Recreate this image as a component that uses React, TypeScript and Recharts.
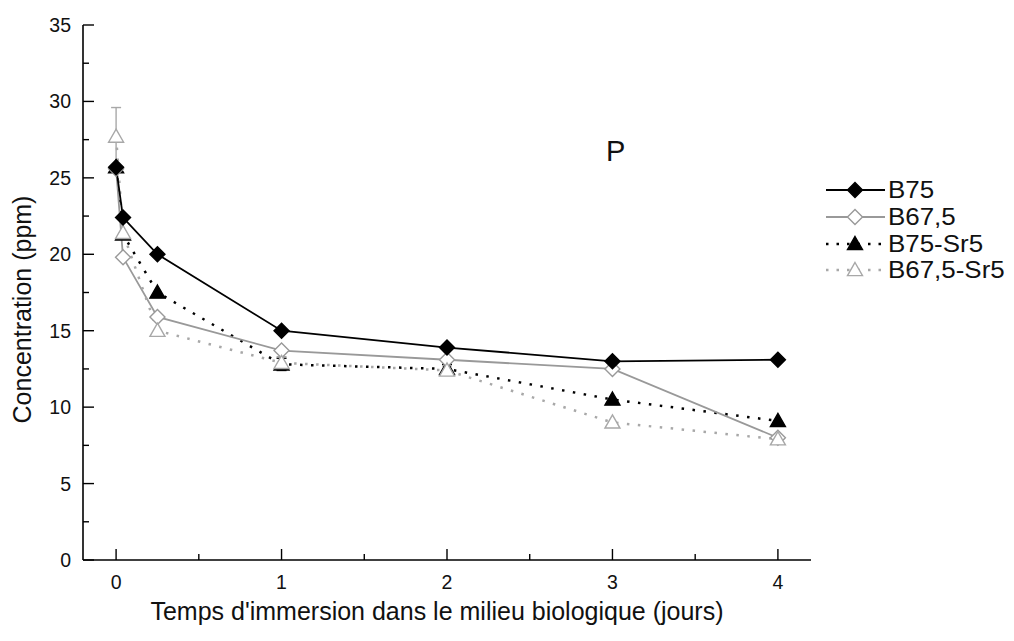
import React from 'react'
import { ErrorBar, Line, LineChart, XAxis, YAxis } from 'recharts'

// temps en jours (0, 1 h, 6 h, puis 1 à 4 jours)
const days = [0, 0.042, 0.25, 1, 2, 3, 4]
const b75 = [25.7, 22.4, 20.0, 15.0, 13.9, 13.0, 13.1]
const b675 = [25.6, 19.8, 15.9, 13.7, 13.1, 12.5, 8.0]
const b75sr5 = [25.7, 21.3, 17.5, 12.8, 12.5, 10.5, 9.1]
const b675sr5 = [27.7, 21.4, 15.0, 12.9, 12.4, 9.0, 7.9]
const b75sr5Err = [null, null, null, 0.4, 0.3, null, null]
const b675sr5Err = [1.9, null, null, 0.4, 0.3, null, null]

const xTicks = [0, 0.5, 1, 1.5, 2, 2.5, 3, 3.5, 4]
const yTicks = [0, 2.5, 5, 7.5, 10, 12.5, 15, 17.5, 20, 22.5, 25, 27.5, 30, 32.5, 35]

const data = days.map((d, i) => ({
  day: d,
  b75: b75[i],
  b675: b675[i],
  b75sr5: b75sr5[i],
  b675sr5: b675sr5[i],
  b75sr5Err: b75sr5Err[i],
  b675sr5Err: b675sr5Err[i],
}))

type Shape = 'diamond' | 'triangle'

// ordre de dessin : B75 au-dessus
const series: { key: string; name: string; color: string; fill: string; shape: Shape; dash?: string; err?: string }[] = [
  { key: 'b75sr5', name: 'B75-Sr5', color: '#000', fill: '#000', shape: 'triangle', dash: '2.5 8.5', err: 'b75sr5Err' },
  { key: 'b675', name: 'B67,5', color: '#999', fill: '#fff', shape: 'diamond' },
  { key: 'b675sr5', name: 'B67,5-Sr5', color: '#a8a8a8', fill: '#fff', shape: 'triangle', dash: '2.5 8.5', err: 'b675sr5Err' },
  { key: 'b75', name: 'B75', color: '#000', fill: '#000', shape: 'diamond' },
]
const legendOrder = ['b75', 'b675', 'b75sr5', 'b675sr5']

const FONT = '"Liberation Sans", Arial, sans-serif'

function Marker({ cx, cy, shape, color, fill }: { cx: number; cy: number; shape: Shape; color: string; fill: string }) {
  if (shape === 'diamond') {
    const r = 7.5
    return <path d={`M${cx},${cy - r} L${cx + r},${cy} L${cx},${cy + r} L${cx - r},${cy} Z`} fill={fill} stroke={color} strokeWidth={1.4} />
  }
  const r = 7.5
  return (
    <path
      d={`M${cx},${cy - r} L${cx + r},${cy + r * 0.75} L${cx - r},${cy + r * 0.75} Z`}
      fill={fill}
      stroke={color}
      strokeWidth={1.4}
    />
  )
}

const LeftTick = ({ x, y, payload }: any) => {
  const major = payload.value % 5 === 0
  return (
    <g>
      <line x1={x} x2={x + (major ? 11 : 6)} y1={y} y2={y} stroke="#000" strokeWidth={1.4} />
      {major && (
        <text x={x - 12} y={y} textAnchor="end" dominantBaseline="central" fontSize={19.5} fontFamily={FONT} fill="#111">
          {payload.value}
        </text>
      )}
    </g>
  )
}

const RightTick = ({ x, y, payload }: any) => {
  const major = payload.value % 5 === 0
  return <line x1={x} x2={x - (major ? 11 : 6)} y1={y} y2={y} stroke="#000" strokeWidth={1.4} />
}

const BottomTick = ({ x, y, payload }: any) => {
  const major = Number.isInteger(payload.value)
  return (
    <g>
      <line x1={x} x2={x} y1={y} y2={y - (major ? 11 : 6)} stroke="#000" strokeWidth={1.4} />
      {major && (
        <text x={x} y={y + 22} textAnchor="middle" dominantBaseline="central" fontSize={19.5} fontFamily={FONT} fill="#111">
          {payload.value}
        </text>
      )}
    </g>
  )
}

const TopTick = ({ x, y, payload }: any) => {
  const major = Number.isInteger(payload.value)
  return <line x1={x} x2={x} y1={y} y2={y + (major ? 11 : 6)} stroke="#000" strokeWidth={1.4} />
}

function LegendBox() {
  return (
    <div style={{ position: 'absolute', left: 822, top: 177, fontFamily: FONT, fontSize: 24, color: '#111' }}>
      {legendOrder.map((k) => {
        const s = series.find((q) => q.key === k)!
        return (
          <div key={k} style={{ display: 'flex', alignItems: 'center', height: 26.7 }}>
            <svg width={66} height={26} style={{ display: 'block' }}>
              <line
                x1={4}
                x2={63}
                y1={13}
                y2={13}
                stroke={s.color}
                strokeWidth={s.dash ? 2.5 : 1.8}
                strokeDasharray={s.dash ? '2.5 8' : undefined}
              />
              <Marker cx={33} cy={13} shape={s.shape} color={s.color} fill={s.fill} />
            </svg>
            <span style={{ lineHeight: '26px', display: 'inline-block', transform: 'scaleX(1.08)', transformOrigin: 'left center' }}>
              {s.name}
            </span>
          </div>
        )
      })}
    </div>
  )
}

export default function App() {
  return (
    <div style={{ position: 'relative', width: 1014, height: 641, background: '#fff' }}>
      <style>{'body{margin:0;background:#fff}'}</style>
      <LineChart width={1014} height={641} data={data} margin={{ top: 25, right: 203, bottom: 21, left: 23 }}>
        <XAxis
          xAxisId="bottom"
          dataKey="day"
          type="number"
          domain={[-0.2, 4.2]}
          ticks={xTicks}
          allowDataOverflow
          height={60}
          tickSize={0}
          tickMargin={0}
          tickLine={false}
          axisLine={{ stroke: '#000', strokeWidth: 1.6 }}
          tick={<BottomTick />}
          interval={0}
          label={{
            content: ({ viewBox }: any) => (
              <text
                x={viewBox.x + viewBox.width / 2 - 10}
                y={viewBox.y + 51}
                textAnchor="middle"
                dominantBaseline="central"
                fontSize={25}
                fontFamily={FONT}
                fill="#111"
              >
                Temps d'immersion dans le milieu biologique (jours)
              </text>
            ),
          }}
        />
        <XAxis
          xAxisId="top"
          orientation="top"
          dataKey="day"
          type="number"
          domain={[-0.2, 4.2]}
          ticks={xTicks}
          allowDataOverflow
          height={0}
          tickSize={0}
          tickMargin={0}
          tickLine={false}
          axisLine={{ stroke: '#000', strokeWidth: 1.6 }}
          tick={<TopTick />}
          interval={0}
        />
        <YAxis
          yAxisId="left"
          type="number"
          domain={[0, 35]}
          ticks={yTicks}
          allowDataOverflow
          width={60}
          tickSize={0}
          tickMargin={0}
          tickLine={false}
          axisLine={{ stroke: '#000', strokeWidth: 1.6 }}
          tick={<LeftTick />}
          interval={0}
          label={{
            content: ({ viewBox }: any) => {
              const cx = viewBox.x - 1
              const cy = viewBox.y + viewBox.height / 2 + 17
              return (
                <text
                  x={cx}
                  y={cy}
                  transform={`rotate(-90 ${cx} ${cy})`}
                  textAnchor="middle"
                  dominantBaseline="central"
                  fontSize={25}
                  fontFamily={FONT}
                  fill="#111"
                >
                  Concentration (ppm)
                </text>
              )
            },
          }}
        />
        <YAxis
          yAxisId="right"
          orientation="right"
          type="number"
          domain={[0, 35]}
          ticks={yTicks}
          allowDataOverflow
          width={0}
          tickSize={0}
          tickMargin={0}
          tickLine={false}
          axisLine={{ stroke: '#000', strokeWidth: 1.6 }}
          tick={<RightTick />}
          interval={0}
        />
        {series.map((s) => (
          <Line
            key={s.key}
            xAxisId="bottom"
            yAxisId="left"
            type="linear"
            dataKey={s.key}
            name={s.name}
            stroke={s.color}
            strokeWidth={s.dash ? 2.5 : 1.8}
            strokeDasharray={s.dash}
            isAnimationActive={false}
            dot={(p: any) => <Marker key={`${s.key}-${p.index}`} cx={p.cx} cy={p.cy} shape={s.shape} color={s.color} fill={s.fill} />}
            activeDot={false}
          >
            {s.err && <ErrorBar dataKey={s.err} direction="y" width={5} stroke={s.color} strokeWidth={1.4} />}
          </Line>
        ))}
      </LineChart>
      <div style={{ position: 'absolute', left: 606, top: 135, fontFamily: FONT, fontSize: 29, color: '#111' }}>P</div>
      <LegendBox />
    </div>
  )
}
